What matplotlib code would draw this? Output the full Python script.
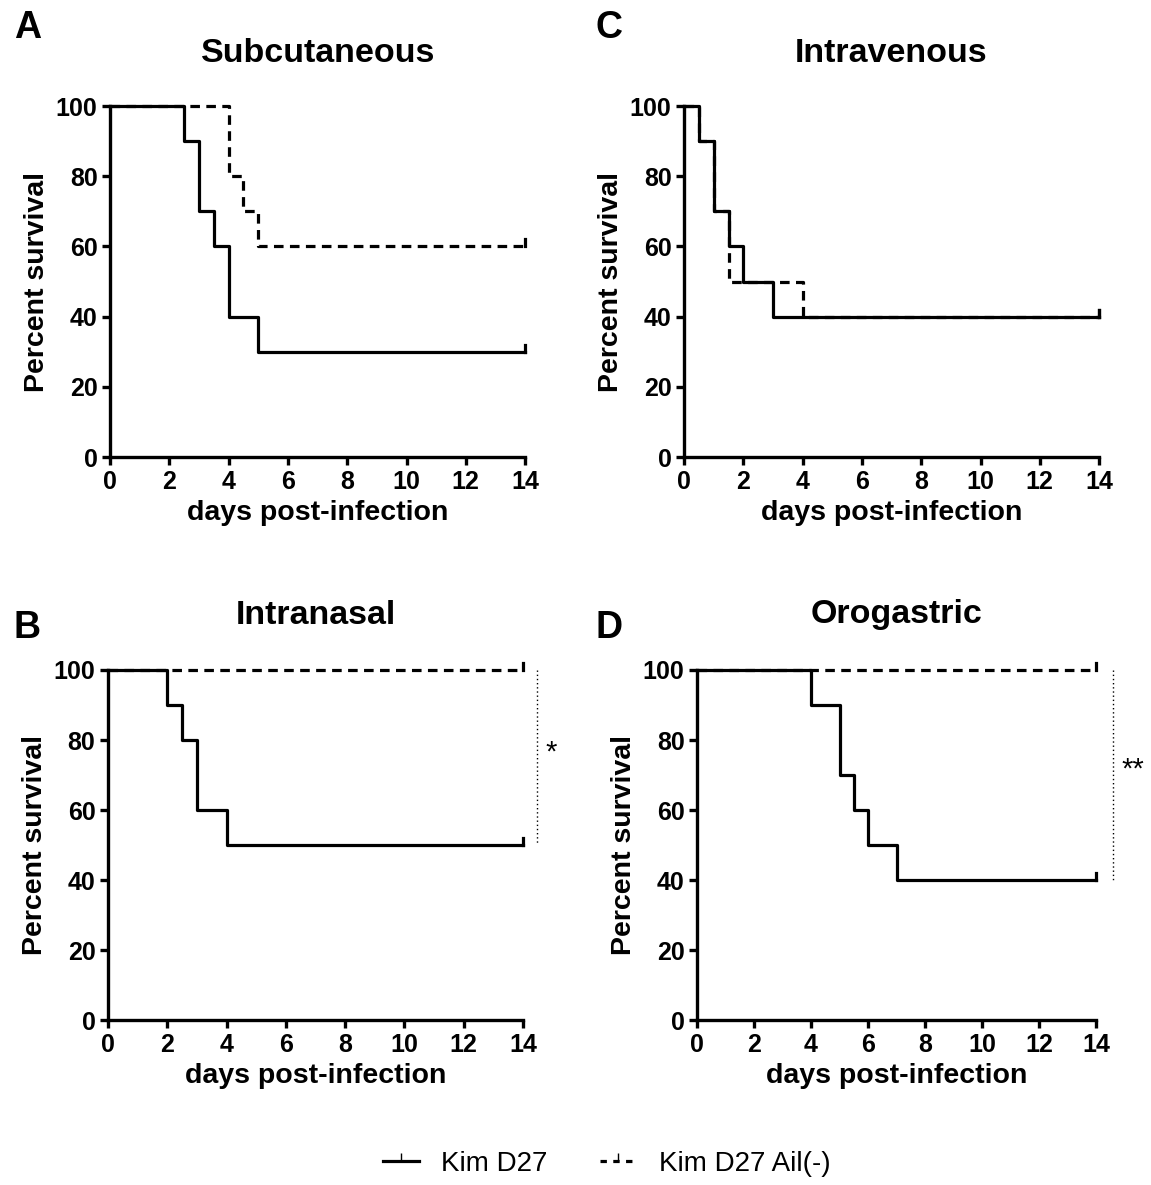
import matplotlib.pyplot as plt
from matplotlib.lines import Line2D

plt.rcParams['font.family'] = ['Liberation Sans', 'DejaVu Sans']

# survival step data: (times at which value starts, values)
sc_wt_t = [0, 2.5, 3, 3.5, 4, 5, 14]
sc_wt_y = [100, 90, 70, 60, 40, 30, 30]
sc_ail_t = [0, 4, 4.5, 5, 14]
sc_ail_y = [100, 80, 70, 60, 60]

iv_wt_t = [0, 0.5, 1, 1.5, 2, 3, 14]
iv_wt_y = [100, 90, 70, 60, 50, 40, 40]
iv_ail_t = [0, 0.5, 1, 1.5, 4, 14]
iv_ail_y = [100, 90, 70, 50, 40, 40]

in_wt_t = [0, 2, 2.5, 3, 4, 14]
in_wt_y = [100, 90, 80, 60, 50, 50]
in_ail_t = [0, 14]
in_ail_y = [100, 100]

og_wt_t = [0, 4, 5, 5.5, 6, 7, 14]
og_wt_y = [100, 90, 70, 60, 50, 40, 40]
og_ail_t = [0, 14]
og_ail_y = [100, 100]

W, H = 1151, 1185
# letter, title, axes rect, data..., significance, letter px, title px
panels = [
    ('A', 'Subcutaneous', [0.0956, 0.6143, 0.3606, 0.2962], sc_wt_t, sc_wt_y, sc_ail_t, sc_ail_y, None,
     (14, 28), (318, 53)),
    ('C', 'Intravenous', [0.5943, 0.6143, 0.3606, 0.2962], iv_wt_t, iv_wt_y, iv_ail_t, iv_ail_y, None,
     (596, 28), (891, 53)),
    ('B', 'Intranasal', [0.0938, 0.1392, 0.3606, 0.2954], in_wt_t, in_wt_y, in_ail_t, in_ail_y, (14.47, 50, '*'),
     (14, 628), (316, 615)),
    ('D', 'Orogastric', [0.6056, 0.1392, 0.3467, 0.2954], og_wt_t, og_wt_y, og_ail_t, og_ail_y, (14.6, 40, '**'),
     (596, 628), (897, 615)),
]

fig = plt.figure(figsize=(11.51, 11.85), dpi=100)
lw = 2.3
for letter, title, pos, t1, y1, t2, y2, sig, lpos, tpos in panels:
    ax = fig.add_axes(pos)
    ax.step(t2, y2, where='post', color='k', lw=lw, ls=(0, (3.0, 2.0)), clip_on=False, zorder=2)
    ax.step(t1, y1, where='post', color='k', lw=lw, clip_on=False, zorder=3)
    # censor ticks at end
    ax.plot([14, 14], [y2[-1], y2[-1] + 2], color='k', lw=lw, clip_on=False)
    ax.plot([14, 14], [y1[-1], y1[-1] + 2], color='k', lw=lw, clip_on=False)
    ax.set_xlim(0, 14)
    ax.set_ylim(0, 100)
    ax.set_xticks(range(0, 15, 2))
    ax.set_yticks(range(0, 101, 20))
    for s in ['top', 'right']:
        ax.spines[s].set_visible(False)
    for s in ['left', 'bottom']:
        ax.spines[s].set_linewidth(2.4)
    ax.tick_params(width=2.4, length=6, labelsize=18, pad=3)
    for lab in ax.get_xticklabels() + ax.get_yticklabels():
        lab.set_fontweight('bold')
    ax.set_xlabel('days post-infection', fontsize=20.5, fontweight='bold', labelpad=5)
    ax.set_ylabel('Percent survival', fontsize=20.5, fontweight='bold', labelpad=4)
    fig.text(tpos[0] / W, 1 - tpos[1] / H, title, fontsize=24.5, fontweight='bold',
             ha='center', va='center')
    fig.text(lpos[0] / W, 1 - lpos[1] / H, letter, fontsize=27, fontweight='bold',
             ha='left', va='center')
    if sig is not None:
        xs, ylow, star = sig
        ax.plot([xs, xs], [100, ylow], color='k', lw=1.0, ls=(0, (1, 2)), clip_on=False)
        ax.text(xs + 0.3, (100 + ylow) / 2 + 1.5, star, fontsize=21, ha='left', va='center')

handles = [Line2D([0, 0.5, 1], [0, 0, 0], color='k', lw=lw, marker=2, markersize=6, markevery=[1]),
           Line2D([0, 0.5, 1], [0, 0, 0], color='k', lw=lw, ls=(0, (2, 2)), marker=2, markersize=6,
                  markevery=[1])]
fig.legend(handles, ['Kim D27', 'Kim D27 Ail(-)'], loc='center', bbox_to_anchor=(0.527, 0.018),
           ncol=2, frameon=False, fontsize=20, handlelength=1.3, columnspacing=1.9)

fig.savefig('out.png', dpi=100)
